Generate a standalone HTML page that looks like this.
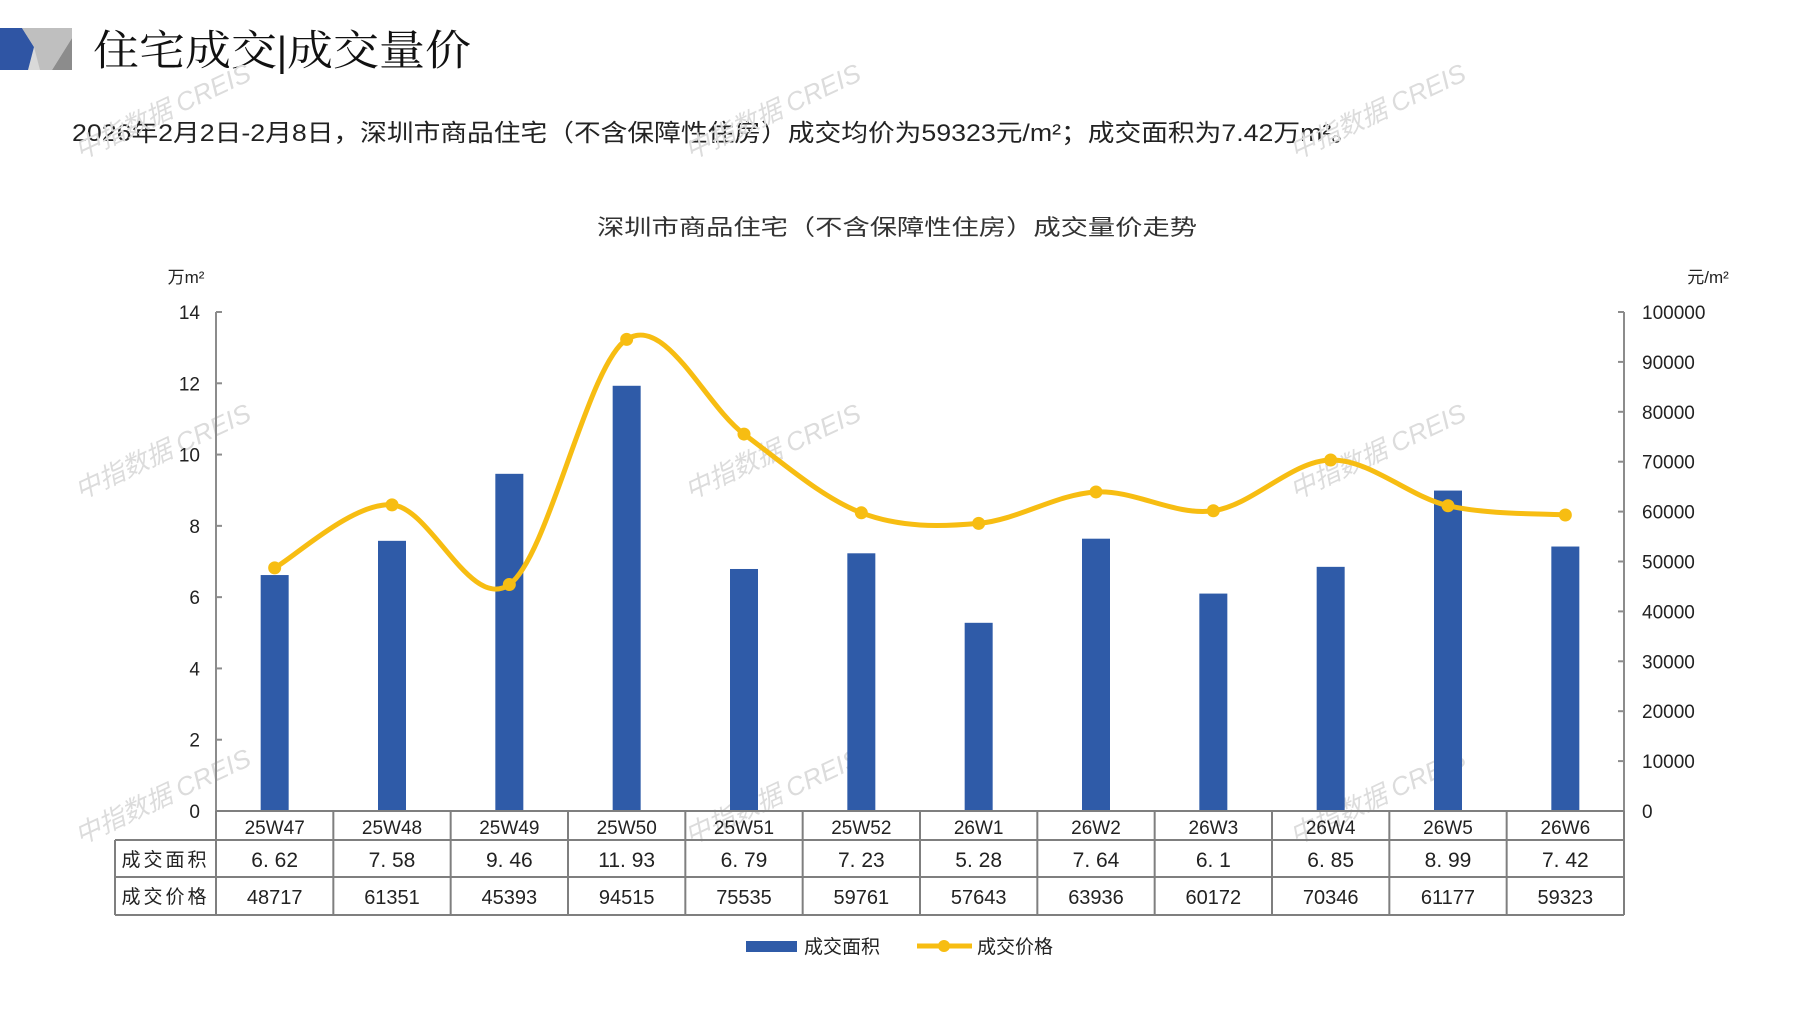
<!DOCTYPE html>
<html><head><meta charset="utf-8"><style>
html,body{margin:0;padding:0;background:#fff;}
svg{display:block;font-family:"Liberation Sans","Noto Sans CJK SC",sans-serif;}
</style></head><body>
<svg id="chart" width="1797" height="1010" viewBox="0 0 1797 1010" xmlns="http://www.w3.org/2000/svg">
<g>
<rect x="0" y="28" width="72" height="42" fill="#d9d9d9"/>
<polygon points="0,28 22,28 34,47 28,70 0,70" fill="#2f55a4"/>
<polygon points="72,38 72,70 52,70" fill="#8c8c8c"/>
<polygon points="22,28 72,28 72,38 52,70 40,70 34,47" fill="#bfbfbf"/>
</g>
<text x="93" y="65" font-size="42" fill="#111" textLength="378" lengthAdjust="spacingAndGlyphs" font-family="'Liberation Serif','Noto Serif CJK SC',serif">住宅成交<tspan font-weight="bold">|</tspan>成交量价</text>
<text x="72" y="141" font-size="24" fill="#222" textLength="1286" lengthAdjust="spacingAndGlyphs">2026年2月2日-2月8日，深圳市商品住宅（不含保障性住房）成交均价为59323元/m²；成交面积为7.42万m²。</text>
<text x="597" y="235" font-size="22" fill="#333" textLength="600" lengthAdjust="spacingAndGlyphs">深圳市商品住宅（不含保障性住房）成交量价走势</text>
<text x="186" y="283" font-size="17" fill="#222" text-anchor="middle">万m²</text>
<text x="1708" y="283" font-size="17" fill="#222" text-anchor="middle">元/m²</text>
<g id="wm"></g>
<g id="plot"></g>
<g>
<rect x="746" y="941" width="51" height="11" fill="#2f5ba8"/>
<text x="804" y="953" font-size="19" fill="#222">成交面积</text>
<line x1="917" y1="946" x2="972" y2="946" stroke="#f7bd12" stroke-width="5"/>
<circle cx="944" cy="946" r="6" fill="#f7bd12"/>
<text x="977" y="953" font-size="19" fill="#222">成交价格</text>
</g>
</svg>
<script>
const categories=["25W47","25W48","25W49","25W50","25W51","25W52","26W1","26W2","26W3","26W4","26W5","26W6"];
const areaValues=[6.62,7.58,9.46,11.93,6.79,7.23,5.28,7.64,6.1,6.85,8.99,7.42];
const priceValues=[48717,61351,45393,94515,75535,59761,57643,63936,60172,70346,61177,59323];
const areaLabels=["6. 62","7. 58","9. 46","11. 93","6. 79","7. 23","5. 28","7. 64","6. 1","6. 85","8. 99","7. 42"];
const leftTicks=[0,2,4,6,8,10,12,14];
const rightTicks=[0,10000,20000,30000,40000,50000,60000,70000,80000,90000,100000];
const NS="http://www.w3.org/2000/svg";
const X0=216,X1=1624,Y0=811,Y1=312;
const colW=(X1-X0)/categories.length;
const xC=i=>X0+colW*(i+0.5);
const yL=v=>Y0-(v/14)*(Y0-Y1);
const yR=v=>Y0-(v/100000)*(Y0-Y1);
const plot=document.getElementById('plot');
function mk(tag,attrs,parent){const e=document.createElementNS(NS,tag);for(const k in attrs)e.setAttribute(k,attrs[k]);(parent||plot).appendChild(e);return e;}
const wm=document.getElementById('wm');
[[80,160],[690,160],[1295,160],[80,500],[690,500],[1295,500],[80,845],[690,845],[1295,845]].forEach(p=>{
 const t=mk('text',{x:p[0],y:p[1],'font-size':26,fill:'#dcdcdc','font-style':'italic',transform:'rotate(-25 '+p[0]+' '+p[1]+')'},wm);
 t.textContent='中指数据 CREIS';
 
 
});
areaValues.forEach((v,i)=>{
 const r=mk('rect',{x:xC(i)-14,y:yL(v),width:28,height:Y0-yL(v),fill:'#2f5ba8'});
 
 
});
const la=mk('line',{x1:X0,y1:Y1,x2:X0,y2:Y0,stroke:'#8c8c8c','stroke-width':2});


const ra=mk('line',{x1:X1,y1:Y1,x2:X1,y2:Y0,stroke:'#8c8c8c','stroke-width':2});


leftTicks.forEach(v=>{
 mk('line',{x1:X0,y1:yL(v),x2:X0+6,y2:yL(v),stroke:'#8c8c8c','stroke-width':2});
 const t=mk('text',{x:200,y:yL(v)+7,'font-size':19,fill:'#222','text-anchor':'end'});
 t.textContent=v;
 
 
});
rightTicks.forEach(v=>{
 mk('line',{x1:X1-6,y1:yR(v),x2:X1,y2:yR(v),stroke:'#8c8c8c','stroke-width':2});
 const t=mk('text',{x:1642,y:yR(v)+7,'font-size':19,fill:'#222'});
 t.textContent=v;
 
 
});
const pts=priceValues.map((v,i)=>[xC(i),yR(v)]);
let d='M'+pts[0][0]+','+pts[0][1];
for(let i=0;i<pts.length-1;i++){
 const p0=pts[Math.max(0,i-1)],p1=pts[i],p2=pts[i+1],p3=pts[Math.min(pts.length-1,i+2)];
 const t=1/3;
 const c1=[p1[0]+(p2[0]-p0[0])*t/2,p1[1]+(p2[1]-p0[1])*t/2];
 const c2=[p2[0]-(p3[0]-p1[0])*t/2,p2[1]-(p3[1]-p1[1])*t/2];
 d+=' C'+c1[0]+','+c1[1]+' '+c2[0]+','+c2[1]+' '+p2[0]+','+p2[1];
}
const ln=mk('path',{d:d,fill:'none',stroke:'#f7bd12','stroke-width':5,'stroke-linecap':'round'});


pts.forEach((p,i)=>{
 const c=mk('circle',{cx:p[0],cy:p[1],r:6.5,fill:'#f7bd12'});
 
 
});
const TL=115,R1=840,R2=877,R3=915;
const g=mk('g',{stroke:'#7f7f7f','stroke-width':2});


mk('line',{x1:X0,y1:Y0,x2:X1,y2:Y0},g);
mk('line',{x1:TL,y1:R1,x2:X1,y2:R1},g);
mk('line',{x1:TL,y1:R2,x2:X1,y2:R2},g);
mk('line',{x1:TL,y1:R3,x2:X1,y2:R3},g);
mk('line',{x1:TL,y1:R1,x2:TL,y2:R3},g);
for(let i=0;i<=categories.length;i++)mk('line',{x1:X0+colW*i,y1:Y0,x2:X0+colW*i,y2:R3},g);
const h1=mk('text',{x:(TL+X0)/2,y:R1+26,'font-size':19,fill:'#222','text-anchor':'middle','letter-spacing':3});
h1.textContent='成交面积';


const h2=mk('text',{x:(TL+X0)/2,y:R2+26,'font-size':19,fill:'#222','text-anchor':'middle','letter-spacing':3});
h2.textContent='成交价格';


categories.forEach((c,i)=>{
 const a=mk('text',{x:xC(i),y:Y0+23,'font-size':19,fill:'#222','text-anchor':'middle'});
 a.textContent=c;
 
 
 const b=mk('text',{x:xC(i),y:R1+27,'font-size':21,fill:'#222','text-anchor':'middle'});
 b.textContent=areaLabels[i];
 
 
 const e=mk('text',{x:xC(i),y:R2+27,'font-size':20,fill:'#222','text-anchor':'middle'});
 e.textContent=priceValues[i];
 
 
});
</script>
</body></html>
